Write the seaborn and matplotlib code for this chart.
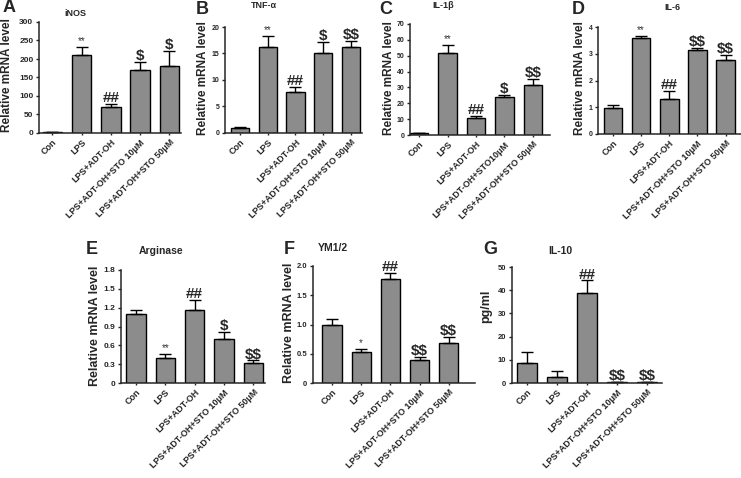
import numpy as np
import pandas as pd
import matplotlib
matplotlib.use("Agg")
import matplotlib.pyplot as plt
import seaborn as sns

# Grupos
groups = ["Con", "LPS", "LPS+ADT-OH", "LPS+ADT-OH+STO 10μM", "LPS+ADT-OH+STO 50μM"]
groups_c = ["Con", "LPS", "LPS+ADT-OH", "LPS+ADT-OH+STO10μM", "LPS+ADT-OH+STO 50μM"]

# Datos (media, error, significancia)
inos_mean = [2, 210, 70, 170, 182]
inos_err = [1, 22, 8, 22, 40]
inos_sig = ["", "**", "##", "$", "$"]

tnf_mean = [1.0, 16.3, 7.8, 15.0, 16.3]
tnf_err = [0.1, 2.0, 0.9, 2.1, 1.1]
tnf_sig = ["", "**", "##", "$", "$$"]

il1b_mean = [1.0, 52, 10.5, 24, 31.5]
il1b_err = [0.2, 4.5, 1.6, 1.0, 4.0]
il1b_sig = ["", "**", "##", "$", "$$"]

il6_mean = [0.97, 3.6, 1.32, 3.13, 2.75]
il6_err = [0.1, 0.07, 0.3, 0.08, 0.22]
il6_sig = ["", "**", "##", "$$", "$$"]

arg_mean = [1.10, 0.40, 1.17, 0.70, 0.32]
arg_err = [0.06, 0.06, 0.15, 0.11, 0.04]
arg_sig = ["", "**", "##", "$", "$$"]

ym_mean = [0.99, 0.53, 1.77, 0.40, 0.68]
ym_err = [0.11, 0.05, 0.11, 0.04, 0.11]
ym_sig = ["", "*", "##", "$$", "$$"]

il10_mean = [8.7, 2.5, 39, 0.3, 0.3]
il10_err = [4.5, 2.5, 5.2, 0.2, 0.2]
il10_sig = ["", "", "##", "$$", "$$"]

W, H = 741, 478

# caja en píxeles (izq, arriba, der, abajo), xlim, posiciones de textos
panels = [
    dict(letter="A", title="iNOS", labels=groups, mean=inos_mean, err=inos_err, sig=inos_sig,
         ylabel="Relative mRNA level", yticks=[0, 50, 100, 150, 200, 250, 300], fmt="{:g}",
         box=(39, 22, 181, 133), xlim=(-0.46, 4.4), title_xy=(75, 13), letter_xy=(3, 8),
         ylab_xy=(7, 75), tick_fs=6, big=False),
    dict(letter="B", title="TNF-α", labels=groups, mean=tnf_mean, err=tnf_err, sig=tnf_sig,
         ylabel="Relative mRNA level", yticks=[0, 5, 10, 15, 20], fmt="{:g}",
         box=(225, 27, 362, 133), xlim=(-0.54, 4.4), title_xy=(264, 6), letter_xy=(196, 9),
         ylab_xy=(203, 78), tick_fs=5, big=False),
    dict(letter="C", title="IL-1β", labels=groups_c, mean=il1b_mean, err=il1b_err, sig=il1b_sig,
         ylabel="Relative mRNA level", yticks=[0, 10, 20, 30, 40, 50, 60, 70], fmt="{:g}",
         box=(410, 24, 550, 135), xlim=(-0.32, 4.6), title_xy=(443, 6), letter_xy=(379, 9),
         ylab_xy=(389, 78), tick_fs=5, big=False),
    dict(letter="D", title="IL-6", labels=groups, mean=il6_mean, err=il6_err, sig=il6_sig,
         ylabel="Relative mRNA level", yticks=[0, 1, 2, 3, 4], fmt="{:g}",
         box=(598, 27, 741, 134), xlim=(-0.53, 4.55), title_xy=(672, 7), letter_xy=(572, 9),
         ylab_xy=(580, 78), tick_fs=5, big=False),
    dict(letter="E", title="Arginase", labels=groups, mean=arg_mean, err=arg_err, sig=arg_sig,
         ylabel="Relative mRNA level", yticks=[0, 0.3, 0.6, 0.9, 1.2, 1.5, 1.8], fmt="{:.1f}",
         box=(121, 270, 265, 383), xlim=(-0.51, 4.4), title_xy=(161, 251), letter_xy=(86, 249),
         ylab_xy=(95, 326), tick_fs=6, big=True),
    dict(letter="F", title="YM1/2", labels=groups, mean=ym_mean, err=ym_err, sig=ym_sig,
         ylabel="Relative mRNA level", yticks=[0, 0.5, 1.0, 1.5, 2.0], fmt="{:.1f}",
         box=(313, 266, 475, 383), xlim=(-0.65, 4.9), title_xy=(333, 248), letter_xy=(284, 249),
         ylab_xy=(289, 323), tick_fs=5.5, big=True),
    dict(letter="G", title="IL-10", labels=groups, mean=il10_mean, err=il10_err, sig=il10_sig,
         ylabel="pg/ml", yticks=[0, 10, 20, 30, 40, 50], fmt="{:g}",
         box=(512, 267, 662, 383), xlim=(-0.49, 4.5), title_xy=(560, 251), letter_xy=(483, 249),
         ylab_xy=(486, 306), tick_fs=5.5, big=True),
]

sns.set_style("ticks")
plt.rcParams["font.family"] = ["Liberation Sans", "DejaVu Sans"]

fig = plt.figure(figsize=(W / 100, H / 100), dpi=100)

for p in panels:
    l, t, r, b = p["box"]
    ax = fig.add_axes([l / W, 1 - b / H, (r - l) / W, (b - t) / H])
    df = pd.DataFrame({"grupo": p["labels"], "valor": p["mean"]})
    sns.barplot(data=df, x="grupo", y="valor", color="#8c8c8c", saturation=1,
                edgecolor="black", linewidth=1.0, width=0.66, errorbar=None, ax=ax)
    x = np.arange(len(p["mean"]))
    ax.errorbar(x, p["mean"], yerr=[np.zeros(len(x)), p["err"]], fmt="none",
                ecolor="black", elinewidth=1.0, capsize=4, capthick=1.0)
    ymax = p["yticks"][-1]
    ax.set_ylim(0, ymax)
    ax.set_xlim(*p["xlim"])
    ax.set_yticks(p["yticks"])
    ax.set_yticklabels(["0" if v == 0 else p["fmt"].format(v) for v in p["yticks"]],
                       fontsize=p["tick_fs"], fontweight="bold")
    ax.set_xticks(x)
    ax.set_xticklabels(p["labels"], rotation=45, ha="right", rotation_mode="anchor",
                       fontsize=6.5, fontweight="bold")
    ax.tick_params(axis="y", length=2.5, width=1, pad=1.5)
    ax.tick_params(axis="x", length=1.5, width=1, pad=2)
    ax.set_xlabel("")
    ax.set_ylabel("")
    for s in ["left", "bottom"]:
        ax.spines[s].set_linewidth(1.1)
    sns.despine(ax=ax)

    # marcas de significancia
    for xi, m, e, s in zip(x, p["mean"], p["err"], p["sig"]):
        if not s:
            continue
        y = m + e + ymax * 0.01
        if "*" in s:
            ax.text(xi, y, s, ha="center", va="bottom", fontsize=7, color="#333333")
        else:
            ax.text(xi, y - ymax * 0.02, s, ha="center", va="bottom", fontsize=11,
                    fontweight="bold", parse_math=False)

    fs_t = 7.5 if p["big"] else 6.5
    fig.text(p["title_xy"][0] / W, 1 - p["title_xy"][1] / H, p["title"], ha="center", va="center",
             fontsize=fs_t, fontweight="bold")
    fig.text(p["letter_xy"][0] / W, 1 - p["letter_xy"][1] / H, p["letter"], ha="left", va="center",
             fontsize=13, fontweight="bold")
    fig.text(p["ylab_xy"][0] / W, 1 - p["ylab_xy"][1] / H, p["ylabel"], rotation=90,
             ha="center", va="center", fontsize=9 if p["big"] else 8.5, fontweight="bold")

fig.savefig("out.png", dpi=100)
